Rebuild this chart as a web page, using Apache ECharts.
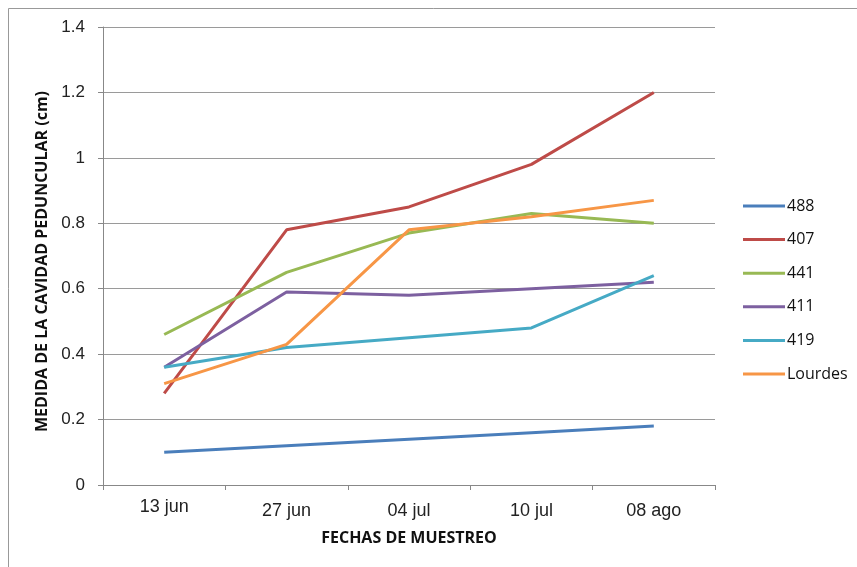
<!DOCTYPE html>
<html><head><meta charset="utf-8">
<script src="https://cdn.jsdelivr.net/npm/echarts@6/dist/echarts.min.js"></script>
<style>html,body{margin:0;padding:0;background:#fff}#c{width:857px;height:567px}</style>
</head><body><div id="c"></div>
<script>
const categories = ['13 jun', '27 jun', '04 jul', '10 jul', '08 ago'];
const s488 = [0.10, 0.12, 0.14, 0.16, 0.18];
const s407 = [0.28, 0.78, 0.85, 0.98, 1.20];
const s441 = [0.46, 0.65, 0.77, 0.83, 0.80];
const s411 = [0.36, 0.59, 0.58, 0.60, 0.62];
const s419 = [0.36, 0.42, 0.45, 0.48, 0.64];
const sLourdes = [0.31, 0.43, 0.78, 0.82, 0.87];
const seriesNames = ['488', '407', '441', '411', '419', 'Lourdes'];
const seriesData = [s488, s407, s441, s411, s419, sLourdes];
const colors = ['#4A7EBB', '#BE4B48', '#98B954', '#7D60A0', '#46AAC5', '#F79646'];

const labelFont = {fontFamily: 'Liberation Sans', fontSize: 18, color: '#222'};
const chart = echarts.init(document.getElementById('c'), null, {renderer: 'canvas'});
chart.setOption({
  animation: false,
  color: colors,
  graphic: [{type: 'rect', shape: {x: 8.5, y: 8.5, width: 900, height: 600}, style: {fill: 'none', stroke: '#999', lineWidth: 1}, silent: true}],
  grid: {left: 103, right: 142, top: 27, bottom: 82},
  legend: {
    orient: 'vertical', left: 738, top: 193,
    icon: 'rect', itemWidth: 42, itemHeight: 3, itemGap: 17.6,
    textStyle: {fontFamily: 'Open Sans', fontSize: 16, color: '#111', padding: [0,0,0,-3], lineHeight: 14},
    data: seriesNames
  },
  xAxis: {
    type: 'category', data: categories, boundaryGap: true,
    name: 'FECHAS DE MUESTREO', nameLocation: 'middle', nameGap: 45,
    nameTextStyle: {fontFamily: 'Open Sans', fontWeight: 'bold', fontSize: 16, color: '#111'},
    axisLine: {lineStyle: {color: '#888', width: 1}},
    axisTick: {show: true, length: 5, lineStyle: {color: '#888'}},
    axisLabel: Object.assign({}, labelFont, {margin: 13,
      formatter: (v, i) => i === 0 ? '{a|' + v + '}' : '{b|' + v + '}',
      rich: {a: Object.assign({}, labelFont), b: Object.assign({padding: [4, 0, 0, 0]}, labelFont)}})
  },
  yAxis: {
    type: 'value', min: 0, max: 1.4, interval: 0.2,
    name: 'MEDIDA DE LA CAVIDAD PEDUNCULAR (cm)', nameLocation: 'middle', nameGap: 52,
    nameTextStyle: {fontFamily: 'Open Sans', fontWeight: 'bold', fontSize: 16, color: '#111', padding: [0, 11, 0, 0]},
    axisLine: {show: true, lineStyle: {color: '#888', width: 1}},
    axisTick: {show: true, length: 5, lineStyle: {color: '#888'}},
    splitLine: {lineStyle: {color: '#9a9a9a', width: 1}},
    axisLabel: {fontFamily: 'Liberation Sans', fontSize: 17, color: '#222', margin: 18,
      formatter: v => String(Math.round(v * 10) / 10)}
  },
  series: seriesNames.map((n, i) => ({
    name: n, type: 'line', data: seriesData[i], showSymbol: false, symbol: 'none',
    lineStyle: {width: 3, color: colors[i]}, itemStyle: {color: colors[i]}
  }))
});
</script></body></html>
